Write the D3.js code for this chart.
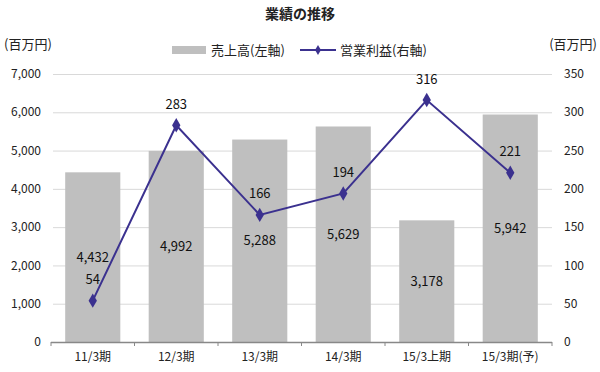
<!DOCTYPE html>
<html>
<head>
<meta charset="utf-8">
<script src="https://cdnjs.cloudflare.com/ajax/libs/d3/7.8.5/d3.min.js"></script>
<style>
  body { margin: 0; background: #fff; }
  svg { font-family: "Noto Sans CJK JP", "Liberation Sans", sans-serif; }
</style>
</head>
<body>
<svg id="chart" width="600" height="372"></svg>
<script>
var categories = ["11/3期", "12/3期", "13/3期", "14/3期", "15/3上期", "15/3期(予)"];
var sales = [4432, 4992, 5288, 5629, 3178, 5942];
var profit = [54, 283, 166, 194, 316, 221];
var leftTicks = [0, 1000, 2000, 3000, 4000, 5000, 6000, 7000];
var rightTicks = [0, 50, 100, 150, 200, 250, 300, 350];

var svg = d3.select("#chart");
var plotL = 51, plotR = 552, plotT = 74, plotB = 342;
var barColor = "#bfbfbf", lineColor = "#3b318f";

var x = d3.scaleBand().domain(categories).range([plotL, plotR]).paddingInner(0.34).paddingOuter(0.17);
var yL = d3.scaleLinear().domain([0, 7000]).range([plotB, plotT]);
var yR = d3.scaleLinear().domain([0, 350]).range([plotB, plotT]);

// title
svg.append("text").attr("x", 300).attr("y", 19).attr("text-anchor", "middle")
  .attr("font-size", 14).attr("font-weight", "bold").attr("fill", "#222").text("業績の推移");

// unit labels
svg.append("text").attr("x", 4).attr("y", 49).attr("font-size", 13).attr("fill", "#222").text("(百万円)");
svg.append("text").attr("x", 597).attr("y", 49).attr("text-anchor", "end").attr("font-size", 13).attr("fill", "#222").text("(百万円)");

// legend
var lg = svg.append("g");
lg.append("rect").attr("x", 172).attr("y", 46).attr("width", 34).attr("height", 8).attr("fill", barColor);
lg.append("text").attr("x", 211).attr("y", 55).attr("font-size", 13).attr("fill", "#222").text("売上高(左軸)");
lg.append("line").attr("x1", 300).attr("x2", 336).attr("y1", 50).attr("y2", 50).attr("stroke", lineColor).attr("stroke-width", 2);
lg.append("path").attr("d", d3.symbol(d3.symbolDiamond, 30)()).attr("transform", "translate(318,50)").attr("fill", lineColor);
lg.append("text").attr("x", 340).attr("y", 55).attr("font-size", 13).attr("fill", "#222").text("営業利益(右軸)");

// gridlines
svg.append("g").selectAll("line").data(leftTicks.slice(1)).enter().append("line")
  .attr("x1", plotL + 2).attr("x2", plotR).attr("y1", function(d){ return yL(d) + 0.5; }).attr("y2", function(d){ return yL(d) + 0.5; })
  .attr("stroke", "#d9d9d9").attr("stroke-width", 1);

// left axis labels
svg.append("g").selectAll("text").data(leftTicks).enter().append("text")
  .attr("x", 41).attr("y", function(d){ return yL(d); }).attr("dy", "0.35em")
  .attr("text-anchor", "end").attr("font-size", 12).attr("fill", "#222")
  .text(function(d){ return d3.format(",")(d); });

// right axis labels
svg.append("g").selectAll("text").data(rightTicks).enter().append("text")
  .attr("x", 564).attr("y", function(d){ return yR(d); }).attr("dy", "0.35em")
  .attr("text-anchor", "start").attr("font-size", 12).attr("fill", "#222")
  .text(function(d){ return d; });

// bars
svg.append("g").selectAll("rect").data(sales).enter().append("rect")
  .attr("x", function(d, i){ return x(categories[i]); })
  .attr("y", function(d){ return yL(d); })
  .attr("width", x.bandwidth())
  .attr("height", function(d){ return plotB - yL(d); })
  .attr("fill", barColor);

// bottom axis
var xAxis = svg.append("g");
xAxis.append("line").attr("x1", plotL).attr("x2", plotR).attr("y1", plotB + 0.5).attr("y2", plotB + 0.5)
  .attr("stroke", "#888").attr("stroke-width", 1.5);
var step = x.step();
var x0 = x(categories[0]) - x.paddingOuter() * step;
xAxis.selectAll(".tk").data(d3.range(categories.length + 1)).enter().append("line")
  .attr("class", "tk")
  .attr("x1", function(i){ return x0 + i * step; })
  .attr("x2", function(i){ return x0 + i * step; })
  .attr("y1", plotB).attr("y2", plotB + 4).attr("stroke", "#888");
xAxis.selectAll("text").data(categories).enter().append("text")
  .attr("x", function(d){ return x(d) + x.bandwidth() / 2; })
  .attr("y", 361).attr("text-anchor", "middle").attr("font-size", 12).attr("fill", "#222")
  .text(function(d){ return d; });

// bar labels
svg.append("g").selectAll("text").data(sales).enter().append("text")
  .attr("x", function(d, i){ return x(categories[i]) + x.bandwidth() / 2; })
  .attr("y", function(d){ return (yL(d) + plotB) / 2; }).attr("dy", "0.35em")
  .attr("text-anchor", "middle").attr("font-size", 13).attr("fill", "#111")
  .text(function(d){ return d3.format(",")(d); });

// profit line
var line = d3.line()
  .x(function(d, i){ return x(categories[i]) + x.bandwidth() / 2; })
  .y(function(d){ return yR(d); });
svg.append("path").datum(profit).attr("d", line).attr("fill", "none")
  .attr("stroke", lineColor).attr("stroke-width", 2);
svg.append("g").selectAll("path").data(profit).enter().append("path")
  .attr("d", d3.symbol(d3.symbolDiamond, 60)())
  .attr("transform", function(d, i){ return "translate(" + (x(categories[i]) + x.bandwidth() / 2) + "," + yR(d) + ")"; })
  .attr("fill", lineColor);
svg.append("g").selectAll("text").data(profit).enter().append("text")
  .attr("x", function(d, i){ return x(categories[i]) + x.bandwidth() / 2; })
  .attr("y", function(d){ return yR(d) - 21; }).attr("dy", "0.35em")
  .attr("text-anchor", "middle").attr("font-size", 13).attr("fill", "#111")
  .text(function(d){ return d; });
</script>
</body>
</html>
